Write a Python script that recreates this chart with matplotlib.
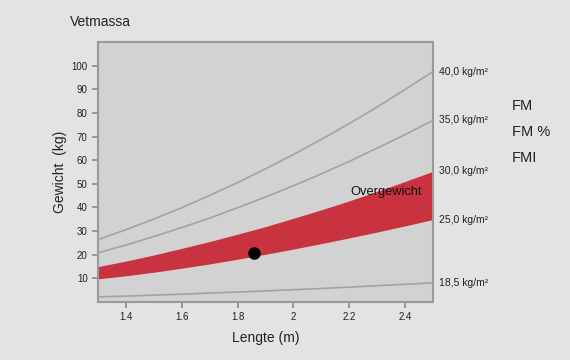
import matplotlib
matplotlib.use("Agg")
import matplotlib.pyplot as plt

plt.rcParams['font.family'] = ['Liberation Sans', 'DejaVu Sans']

heights = [1.3, 1.4, 1.5, 1.6, 1.7, 1.8, 1.9, 2.0, 2.1, 2.2, 2.3, 2.4, 2.5]
fm_40 = [26.4, 30.6, 35.1, 39.9, 45.1, 50.5, 56.3, 62.4, 68.8, 75.5, 82.5, 89.9, 97.5]
fm_35 = [20.8, 24.1, 27.7, 31.5, 35.5, 39.9, 44.4, 49.2, 54.2, 59.5, 65.1, 70.8, 76.9]
fm_30 = [15.0, 17.3, 19.9, 22.7, 25.6, 28.7, 31.9, 35.4, 39.0, 42.8, 46.8, 51.0, 55.3]
fm_25 = [9.8, 11.1, 12.6, 14.3, 16.1, 18.1, 20.2, 22.4, 24.7, 27.1, 29.6, 32.2, 34.9]
fm_185 = [2.2, 2.5, 2.9, 3.3, 3.8, 4.2, 4.7, 5.2, 5.7, 6.3, 6.9, 7.5, 8.1]
curve_labels = ["40,0 kg/m²", "35,0 kg/m²", "30,0 kg/m²", "25,0 kg/m²", "18,5 kg/m²"]
person_height = 1.86
person_fm = 20.7
xticks = [1.4, 1.6, 1.8, 2.0, 2.2, 2.4]
xtick_labels = ["1.4", "1.6", "1.8", "2", "2.2", "2.4"]
yticks = [10, 20, 30, 40, 50, 60, 70, 80, 90, 100]
side_labels = ["FM", "FM %", "FMI"]

fig = plt.figure(figsize=(5.7, 3.6), dpi=100)
fig.patch.set_facecolor('#e3e3e3')
ax = fig.add_axes([0.1719, 0.1611, 0.5877, 0.7222])
ax.set_facecolor('#d2d2d2')

line_c = '#a3a3a3'
ax.fill_between(heights, fm_25, fm_30, color='#c9333f', lw=0, zorder=2)
for s in (fm_40, fm_35, fm_185):
    ax.plot(heights, s, color=line_c, lw=1.2, zorder=3)
ax.plot(person_height, person_fm, 'o', color='black', ms=8, zorder=5)
ax.text(2.205, 46.5, "Overgewicht", fontsize=9.3, va='center', ha='left', color='#111111', zorder=6)

ax.set_xlim(1.3, 2.5)
ax.set_ylim(0, 110)
ax.set_xticks(xticks)
ax.set_xticklabels(xtick_labels)
ax.set_yticks(yticks)
ax.tick_params(axis='both', labelsize=7, color='#888888', length=4, width=1.2, labelcolor='#222222')
for sp in ax.spines.values():
    sp.set_color('#9a9a9a')
    sp.set_linewidth(1.5)

ends = [fm_40[-1], fm_35[-1], fm_30[-1], fm_25[-1], fm_185[-1]]
for lab, y in zip(curve_labels, ends):
    ax.annotate(lab, xy=(1.0, y), xycoords=('axes fraction', 'data'),
                xytext=(4, 0), textcoords='offset points', fontsize=7.5,
                va='center', ha='left', color='#222222', annotation_clip=False)

ax.set_xlabel("Lengte (m)", fontsize=10, color='#222222', labelpad=6)
ax.set_ylabel("Gewicht  (kg)", fontsize=10, color='#222222', labelpad=3)

fig.text(70/570, 1 - 21.7/360, "Vetmassa", fontsize=10, va='center', ha='left', color='#222222')
for lab, yp in zip(side_labels, [105.7, 131.7, 158.3]):
    fig.text(511.7/570, 1 - yp/360, lab, fontsize=10.5, va='center', ha='left', color='#222222')

fig.savefig("out.png", dpi=100, facecolor=fig.get_facecolor())
